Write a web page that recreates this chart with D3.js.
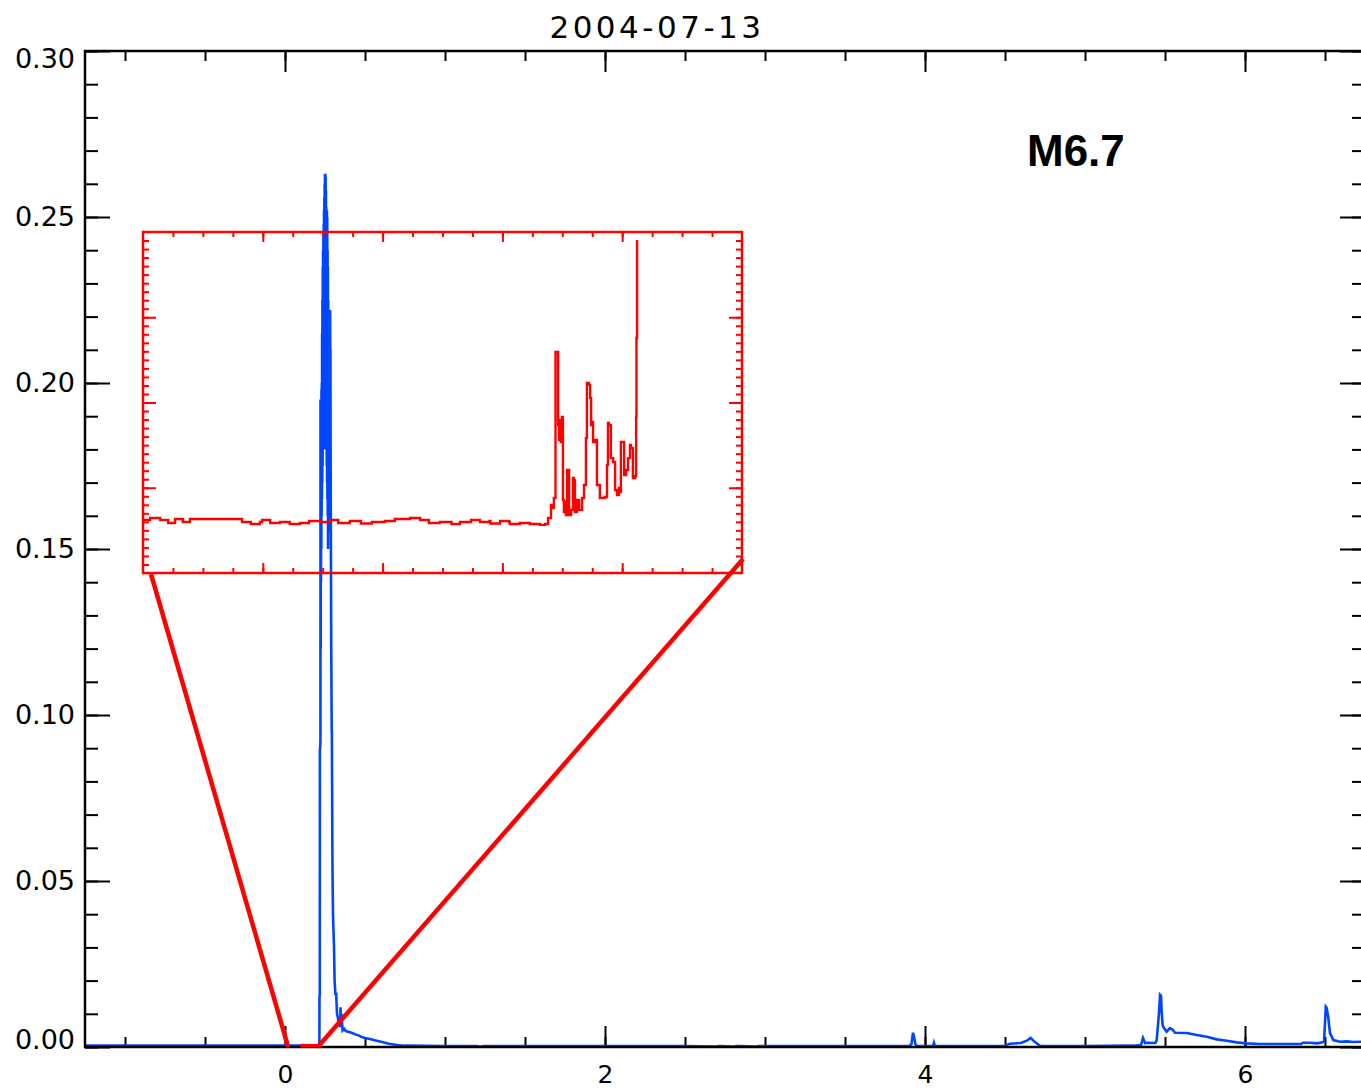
<!DOCTYPE html>
<html>
<head>
<meta charset="utf-8">
<script src="https://cdn.jsdelivr.net/npm/d3@7"></script>
<style>
  html, body { margin: 0; padding: 0; background: #fff; }
  svg { display: block; }
</style>
</head>
<body>
<svg id="chart" width="1361" height="1089"></svg>
<script>
// ---------------- DATA ----------------
const title = "2004-07-13";
const flareClass = "M6.7";

// main light curve (time in hours, flux)
const mainT = [
  -1.25, -1.0, -0.75, -0.5, -0.25, 0.0, 0.1, 0.2, 0.21, 0.215,
  0.2155, 0.2175, 0.218, 0.2215, 0.222, 0.223, 0.224, 0.225, 0.226, 0.227,
  0.228, 0.229, 0.230, 0.231, 0.232, 0.233, 0.234, 0.235, 0.236, 0.237,
  0.238, 0.239, 0.240, 0.241, 0.242, 0.243, 0.244, 0.245, 0.246, 0.247,
  0.248, 0.249, 0.250, 0.251, 0.252, 0.253, 0.254, 0.255, 0.256, 0.257,
  0.258, 0.259, 0.260, 0.261, 0.262, 0.263, 0.264, 0.265, 0.266, 0.267,
  0.268, 0.269, 0.270, 0.271, 0.272, 0.273, 0.274, 0.275, 0.276, 0.277,
  0.278, 0.279, 0.280, 0.281, 0.282, 0.283, 0.284, 0.285, 0.287, 0.289,
  0.292, 0.293, 0.296, 0.297, 0.300, 0.305, 0.306, 0.310, 0.315, 0.320,
  0.325, 0.330, 0.335, 0.340, 0.345, 0.347, 0.350, 0.353, 0.360, 0.370,
  0.380, 0.400, 0.420, 0.440, 0.460, 0.480, 0.500, 0.530, 0.560, 0.600,
  0.650, 0.700, 0.750, 1.0, 1.2, 1.22, 1.24, 1.5, 2.0, 2.5,
  2.7, 2.71, 2.72, 2.8, 2.82, 2.84, 2.95, 2.96, 2.97, 3.5,
  3.9, 3.915, 3.925, 3.932, 3.94, 3.95, 4.05, 4.056, 4.062, 4.2,
  4.5, 4.53, 4.6, 4.64, 4.66, 4.68, 4.72, 5.0, 5.3, 5.35,
  5.3625, 5.375, 5.3875, 5.44, 5.448, 5.462, 5.469, 5.475, 5.479, 5.485,
  5.49, 5.51, 5.531, 5.548, 5.5625, 5.636, 5.698, 5.761, 5.823, 5.886,
  5.948, 6.01, 6.094, 6.35, 6.3625, 6.406, 6.45, 6.494, 6.505, 6.51,
  6.52, 6.531, 6.552, 6.594, 6.636, 6.675, 6.75
];
const mainV = [
  0.0004, 0.0004, 0.0004, 0.0004, 0.0004, 0.0004, 0.0004, 0.0004, 0.0004, 0.0005,
  0.015, 0.016, 0.089, 0.092, 0.195, 0.120, 0.180, 0.140, 0.195, 0.150,
  0.198, 0.160, 0.200, 0.165, 0.215, 0.170, 0.225, 0.175, 0.235, 0.180,
  0.240, 0.185, 0.245, 0.190, 0.248, 0.185, 0.252, 0.180, 0.256, 0.190,
  0.260, 0.200, 0.263, 0.205, 0.263, 0.200, 0.262, 0.190, 0.258, 0.185,
  0.253, 0.180, 0.252, 0.175, 0.252, 0.170, 0.250, 0.165, 0.240, 0.160,
  0.235, 0.150, 0.225, 0.155, 0.222, 0.160, 0.222, 0.170, 0.222, 0.175,
  0.222, 0.180, 0.222, 0.190, 0.222, 0.200, 0.210, 0.180, 0.150, 0.120,
  0.095, 0.095, 0.060, 0.053, 0.040, 0.032, 0.031, 0.020, 0.016, 0.016,
  0.010, 0.009, 0.007, 0.008, 0.006, 0.012, 0.006, 0.010, 0.005, 0.0055,
  0.0048, 0.0045, 0.0042, 0.0038, 0.0035, 0.0030, 0.0027, 0.0024, 0.0020, 0.0016,
  0.0010, 0.0006, 0.0004, 0.0003, 0.0003, 0.0001, 0.0003, 0.0003, 0.0003, 0.0003,
  0.0001, 0.0003, 0.0003, 0.0001, 0.0003, 0.0003, 0.0001, 0.0003, 0.0003, 0.0003,
  0.0003, 0.0008, 0.0043, 0.0030, 0.0008, 0.0003, 0.0003, 0.0013, 0.0003, 0.0003,
  0.0003, 0.0010, 0.0012, 0.0020, 0.0027, 0.0018, 0.0003, 0.0003, 0.0004, 0.0006,
  0.0027, 0.0012, 0.0013, 0.0012, 0.0020, 0.0100, 0.0157, 0.0154, 0.0110, 0.0066,
  0.0060, 0.0046, 0.0057, 0.0052, 0.0043, 0.0042, 0.0036, 0.0031, 0.0023, 0.0019,
  0.0014, 0.0011, 0.0009, 0.0009, 0.0013, 0.0013, 0.0011, 0.0015, 0.0121, 0.0118,
  0.0091, 0.0042, 0.0021, 0.0016, 0.0017, 0.0015, 0.0016
];

// zoomed pre-flare interval shown in the inset (main time units)
const zoomRange = [0.02, 0.205];
const zoomMark = [0.095, 0.205];

// inset light curve (time in hours, flux)
const insetT = [
  0.0203, 0.0222, 0.0253, 0.0275, 0.0278, 0.0299, 0.0320, 0.0323, 0.0345, 0.0376,
  0.0422, 0.0500, 0.0506, 0.0530, 0.0533, 0.0561, 0.0568, 0.0590, 0.0593, 0.0623,
  0.0650, 0.0653, 0.0685, 0.0710, 0.0713, 0.0747, 0.0778, 0.0800, 0.0803, 0.0839,
  0.0870, 0.0873, 0.0907, 0.0947, 0.0978, 0.1025, 0.1056, 0.1080, 0.1083, 0.1117,
  0.1150, 0.1153, 0.1179, 0.1210, 0.1213, 0.1241, 0.1270, 0.1273, 0.1303, 0.1330,
  0.1333, 0.1364, 0.1395, 0.1426, 0.1442, 0.1451,
  0.1460, 0.1466, 0.1469, 0.1474, 0.1479, 0.1482, 0.1485, 0.1488, 0.1491, 0.1494,
  0.1497, 0.1500, 0.1503, 0.1506, 0.1510, 0.1513, 0.1516, 0.1522, 0.1528, 0.1531,
  0.1534, 0.1540, 0.1547, 0.1556, 0.1562, 0.1568, 0.1571, 0.1577, 0.1581, 0.1584,
  0.1587, 0.1590, 0.1596, 0.1602, 0.1611, 0.1621, 0.1627, 0.1633, 0.1636, 0.1639,
  0.1645, 0.1652, 0.1658, 0.1664, 0.1670, 0.1673, 0.1676, 0.1679, 0.1686, 0.1692,
  0.1695, 0.1698, 0.1704, 0.1707, 0.1713, 0.1717, 0.1720, 0.1723, 0.1724, 0.1726
];
const insetV = [
  0.000311, 0.000323, 0.000311, 0.000311, 0.000293, 0.000317, 0.000317, 0.000299, 0.000317, 0.000317,
  0.000317, 0.000317, 0.000299, 0.000299, 0.000287, 0.000299, 0.000311, 0.000311, 0.000293, 0.000299,
  0.000299, 0.000287, 0.000293, 0.000293, 0.000305, 0.000299, 0.000311, 0.000311, 0.000293, 0.000305,
  0.000305, 0.000290, 0.000299, 0.000305, 0.000317, 0.000323, 0.000311, 0.000311, 0.000293, 0.000299,
  0.000299, 0.000287, 0.000299, 0.000299, 0.000311, 0.000299, 0.000305, 0.000290, 0.000305, 0.000299,
  0.000287, 0.000293, 0.000287, 0.000282, 0.000287, 0.000323,
  0.000399, 0.000381, 0.000440, 0.001296, 0.001296, 0.000868, 0.000780, 0.000897, 0.000768, 0.000915,
  0.000428, 0.000358, 0.000416, 0.000340, 0.000604, 0.000604, 0.000340, 0.000370, 0.000557, 0.000545,
  0.000358, 0.000428, 0.000370, 0.000440, 0.000516, 0.000792, 0.001114, 0.001103, 0.001026, 0.000868,
  0.000886, 0.000768, 0.000780, 0.000516, 0.000440, 0.000440, 0.000446, 0.000633, 0.000880, 0.000868,
  0.000674, 0.000651, 0.000487, 0.000457, 0.000499, 0.000475, 0.000768, 0.000768, 0.000575, 0.000604,
  0.000604, 0.000674, 0.000751, 0.000733, 0.000557, 0.000557, 0.000569, 0.000915, 0.001378, 0.001953
];

// axis ticks
const xMajor = [0, 2, 4, 6];
const xMinor = d3.range(-2, 14).map(i => i * 0.5);
const yMajor = [0, 0.05, 0.10, 0.15, 0.20, 0.25, 0.30];
const yMinor = d3.range(0, 31).map(i => i / 100);

// ---------------- LAYOUT ----------------
const L = 85, R = 1365, T = 51, B = 1047;
const BLUE = "#0046ff", RED = "#ff0000";

const svg = d3.select("#chart");
const x = d3.scaleLinear().domain([-1.25, 6.75]).range([L, R]);
const y = d3.scaleLinear().domain([0, 0.30]).range([B, T]);

const FONT = "'DejaVu Sans', sans-serif";

function styleAxis(g, color, width) {
  g.select(".domain").remove();
  g.selectAll(".tick line").attr("stroke", color).attr("stroke-width", width);
}

// axes — minor ticks
svg.append("g").attr("transform", `translate(0,${B})`)
  .call(d3.axisBottom(x).tickValues(xMinor).tickSize(-10).tickFormat(""))
  .call(g => styleAxis(g, "#000", 2));
svg.append("g").attr("transform", `translate(0,${T})`)
  .call(d3.axisTop(x).tickValues(xMinor).tickSize(-10).tickFormat(""))
  .call(g => styleAxis(g, "#000", 2));
svg.append("g").attr("transform", `translate(${L},0)`)
  .call(d3.axisLeft(y).tickValues(yMinor).tickSize(-13).tickFormat(""))
  .call(g => styleAxis(g, "#000", 2));
svg.append("g").attr("transform", `translate(${R},0)`)
  .call(d3.axisRight(y).tickValues(yMinor).tickSize(-13).tickFormat(""))
  .call(g => styleAxis(g, "#000", 2));

// axes — major ticks + labels
svg.append("g").attr("transform", `translate(0,${B})`)
  .call(d3.axisBottom(x).tickValues(xMajor).tickSize(-21).tickPadding(18).tickFormat(d3.format("d")))
  .call(g => styleAxis(g, "#000", 2))
  .call(g => g.selectAll("text").attr("fill", "#000").style("font-family", FONT).style("font-size", "25px"));
svg.append("g").attr("transform", `translate(0,${T})`)
  .call(d3.axisTop(x).tickValues(xMajor).tickSize(-21).tickFormat(""))
  .call(g => styleAxis(g, "#000", 2));
svg.append("g").attr("transform", `translate(${L},0)`)
  .call(d3.axisLeft(y).tickValues(yMajor).tickSize(-25).tickPadding(10).tickFormat(d3.format(".2f")))
  .call(g => styleAxis(g, "#000", 2))
  .call(g => g.selectAll("text").attr("fill", "#000").style("font-family", FONT).style("font-size", "27px")
    .attr("y", d => d >= 0.30 ? 8 : (d <= 0 ? -7 : 0)));
svg.append("g").attr("transform", `translate(${R},0)`)
  .call(d3.axisRight(y).tickValues(yMajor).tickSize(-25).tickFormat(""))
  .call(g => styleAxis(g, "#000", 2));

// main blue curve
const mainData = mainT.map((t, i) => [t, mainV[i]]);
svg.append("path")
  .datum(mainData)
  .attr("fill", "none")
  .attr("stroke", BLUE)
  .attr("stroke-width", 2.6)
  .attr("d", d3.line().x(d => x(d[0])).y(d => y(d[1])));

// plot frame
svg.append("path")
  .attr("d", `M${R},${T}H${L}V${B}H${R}`)
  .attr("fill", "none").attr("stroke", "#000").attr("stroke-width", 2.5);

// ---------------- INSET ----------------
const IL = 143, IR = 742, IT = 232, IB = 573;
const ix = d3.scaleLinear().domain(zoomRange).range([IL, IR]);
const iy = d3.scaleLinear().domain([0, 0.002]).range([IB, IT]);
const span = zoomRange[1] - zoomRange[0];
const ixMajor = d3.range(1, 5).map(k => zoomRange[0] + k * span / 5);
const ixMinor = d3.range(1, 20).map(k => zoomRange[0] + k * span / 20);
const iyMajor = [0.0005, 0.0010, 0.0015];
const iyMinor = d3.range(1, 40).map(k => k * 0.00005);

const inset = svg.append("g");
[[d3.axisBottom(ix), IB], [d3.axisTop(ix), IT]].forEach(([ax, pos]) => {
  inset.append("g").attr("transform", `translate(0,${pos})`)
    .call(ax.tickValues(ixMinor).tickSize(-5).tickFormat(""))
    .call(g => styleAxis(g, RED, 2));
});
[[d3.axisBottom(ix), IB], [d3.axisTop(ix), IT]].forEach(([ax, pos]) => {
  inset.append("g").attr("transform", `translate(0,${pos})`)
    .call(ax.tickValues(ixMajor).tickSize(-10).tickFormat(""))
    .call(g => styleAxis(g, RED, 2));
});
[[d3.axisLeft(iy), IL], [d3.axisRight(iy), IR]].forEach(([ax, pos]) => {
  inset.append("g").attr("transform", `translate(${pos},0)`)
    .call(ax.tickValues(iyMinor).tickSize(-6).tickFormat(""))
    .call(g => styleAxis(g, RED, 2));
});
[[d3.axisLeft(iy), IL], [d3.axisRight(iy), IR]].forEach(([ax, pos]) => {
  inset.append("g").attr("transform", `translate(${pos},0)`)
    .call(ax.tickValues(iyMajor).tickSize(-13).tickFormat(""))
    .call(g => styleAxis(g, RED, 2));
});

inset.append("rect")
  .attr("x", IL).attr("y", IT).attr("width", IR - IL).attr("height", IB - IT)
  .attr("fill", "none").attr("stroke", RED).attr("stroke-width", 2.5);

const insetData = insetT.map((t, i) => [t, insetV[i]]);
inset.append("path")
  .datum(insetData)
  .attr("fill", "none")
  .attr("stroke", RED)
  .attr("stroke-width", 2.4)
  .attr("d", d3.line().curve(d3.curveStepAfter).x(d => ix(d[0])).y(d => iy(d[1])));

// connector lines from the inset to the zoomed interval
svg.append("line")
  .attr("x1", ix(zoomRange[0]) + 8).attr("y1", IB + 1)
  .attr("x2", x(zoomRange[0])).attr("y2", y(0))
  .attr("stroke", RED).attr("stroke-width", 4.5);
svg.append("line")
  .attr("x1", ix(zoomRange[1]) + 1).attr("y1", IB - 14)
  .attr("x2", x(zoomRange[1])).attr("y2", y(0))
  .attr("stroke", RED).attr("stroke-width", 4.5);
svg.append("line")
  .attr("x1", x(zoomMark[0])).attr("y1", y(0.0004))
  .attr("x2", x(zoomMark[1])).attr("y2", y(0.0004))
  .attr("stroke", RED).attr("stroke-width", 3.5);

// ---------------- TEXT ----------------
svg.append("text")
  .attr("x", 657).attr("y", 38)
  .attr("text-anchor", "middle")
  .style("font-family", FONT).style("font-size", "31px").style("letter-spacing", "3.5px")
  .attr("fill", "#000")
  .text(title);

svg.append("text")
  .attr("x", 1027).attr("y", 166)
  .style("font-family", "'Liberation Sans', Arial, sans-serif")
  .style("font-size", "44px").style("font-weight", "bold")
  .attr("fill", "#000")
  .text(flareClass);
</script>
</body>
</html>
